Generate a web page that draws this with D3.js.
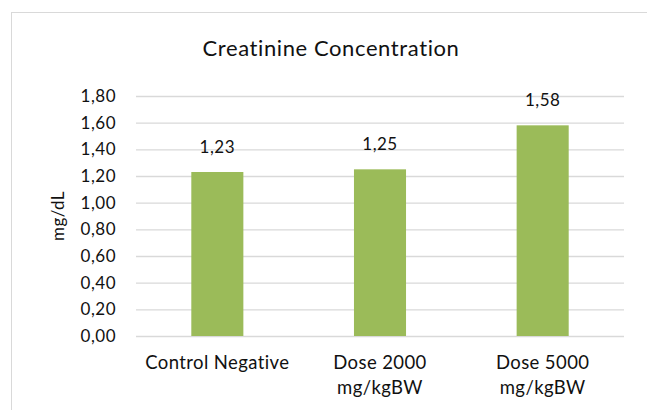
<!DOCTYPE html>
<html><head><meta charset="utf-8">
<script src="https://cdn.jsdelivr.net/npm/d3@7"></script>
<style>body{margin:0;background:#fff}svg{display:block}text{font-variant-ligatures:none;font-feature-settings:"liga" 0}</style>
</head><body>
<svg id="c" width="647" height="410"></svg>
<script>
const categories = [["Control Negative"], ["Dose 2000", "mg/kgBW"], ["Dose 5000", "mg/kgBW"]];
const values = [1.23, 1.25, 1.58];
const yTicks = [0, 0.2, 0.4, 0.6, 0.8, 1.0, 1.2, 1.4, 1.6, 1.8];
const title = "Creatinine Concentration";
const yTitle = "mg/dL";

const svg = d3.select("#c");
const font = "Lato, 'Open Sans', sans-serif";
const m = {l: 136, r: 624, t: 96, b: 336};

svg.append("rect").attr("x", 11.5).attr("y", 12.5).attr("width", 700).attr("height", 500)
  .attr("fill", "#fff").attr("stroke", "#d9d9d9");

const x = d3.scaleBand().domain(d3.range(values.length)).range([m.l, m.r]).paddingInner(0.68).paddingOuter(0.34);
const y = d3.scaleLinear().domain([0, 1.8]).range([m.b, m.t]);
const fmt = v => d3.format(".2f")(v).replace(".", ",");

const ax = d3.axisLeft(y).tickValues(yTicks).tickSize(-(m.r - m.l)).tickPadding(20).tickFormat(fmt);
const g = svg.append("g").attr("transform", `translate(${m.l},0)`).call(ax);
g.select(".domain").remove();
g.selectAll(".tick line").attr("stroke", "#d9d9d9").attr("stroke-width", 1.3);
g.selectAll(".tick text").attr("font-family", font).attr("font-size", 17).attr("letter-spacing", 0.5).attr("fill", "#111");

svg.selectAll("rect.bar").data(values).join("rect").attr("class", "bar")
  .attr("x", (d, i) => x(i)).attr("width", x.bandwidth())
  .attr("y", d => y(d)).attr("height", d => y(0) - y(d)).attr("fill", "#9bbb59");

svg.selectAll("text.val").data(values).join("text").attr("class", "val")
  .attr("x", (d, i) => x(i) + x.bandwidth() / 2).attr("y", d => y(d) - 19)
  .attr("text-anchor", "middle").attr("font-family", font).attr("font-size", 17).attr("letter-spacing", 0.5).attr("fill", "#111")
  .text(fmt);

const xl = svg.selectAll("text.cat").data(categories).join("text").attr("class", "cat")
  .attr("text-anchor", "middle").attr("font-family", font).attr("font-size", 18.5).attr("letter-spacing", 0.4).attr("fill", "#111");
xl.each(function (lines, i) {
  d3.select(this).selectAll("tspan").data(lines).join("tspan")
    .attr("x", x(i) + x.bandwidth() / 2).attr("y", (d, j) => 369 + j * 25).text(d => d);
});

svg.append("text").attr("x", 331).attr("y", 55.5).attr("text-anchor", "middle")
  .attr("font-family", font).attr("font-size", 22).attr("letter-spacing", 0.6).attr("fill", "#111").text(title);

svg.append("text").attr("transform", `translate(64,${(m.t + m.b) / 2}) rotate(-90)`)
  .attr("text-anchor", "middle").attr("font-family", font).attr("font-size", 17).attr("letter-spacing", 0.4).attr("fill", "#111").text(yTitle);
</script>
</body></html>
